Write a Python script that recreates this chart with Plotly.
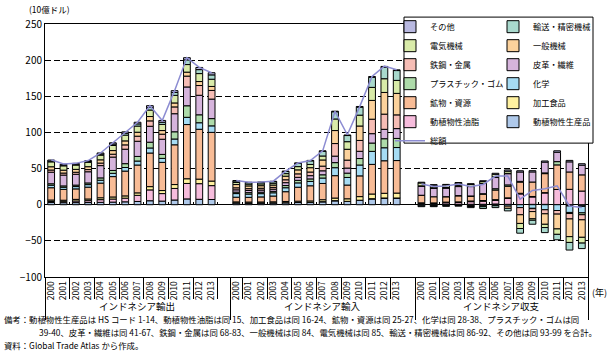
import plotly.graph_objects as go

# ---------------- data (10億ドル) ----------------
years = ["2000", "2001", "2002", "2003", "2004", "2005", "2006",
         "2007", "2008", "2009", "2010", "2011", "2012", "2013"]
groups = ["インドネシア輸出", "インドネシア輸入", "インドネシア収支"]

categories = ["動植物性生産品", "動植物性油脂", "加工食品", "鉱物・資源", "化学",
              "プラスチック・ゴム", "皮革・繊維", "鉄鋼・金属", "一般機械",
              "電気機械", "輸送・精密機械", "その他"]

# exports
exp_agri = [3.0, 2.8, 2.9, 3.0, 3.3, 3.6, 4.0, 4.5, 5.5, 5.0, 6.5, 8.0, 7.5, 7.2]
exp_oil = [1.5, 1.4, 2.3, 2.6, 3.7, 4.3, 5.1, 8.5, 15.0, 10.4, 16.0, 21.4, 21.6, 19.2]
exp_food = [2.0, 2.0, 2.2, 2.3, 2.6, 2.8, 3.1, 3.4, 4.5, 4.2, 5.4, 6.5, 6.3, 6.3]
exp_mineral = [17.0, 15.0, 14.5, 16.4, 20.3, 28.2, 34.3, 38.5, 46.5, 39.0, 55.0, 75.0, 69.0, 67.4]
exp_chem = [3.5, 3.0, 3.2, 3.5, 4.0, 4.5, 5.0, 5.5, 7.0, 5.5, 8.0, 10.0, 9.0, 9.0]
exp_plastic = [2.0, 1.8, 2.0, 2.3, 3.2, 4.0, 5.3, 6.4, 8.0, 5.5, 10.0, 16.0, 11.0, 10.0]
exp_textile = [16.0, 15.0, 15.0, 15.5, 17.0, 18.5, 20.0, 21.0, 22.0, 21.0, 25.0, 26.0, 27.0, 27.0]
exp_metal = [3.0, 2.8, 2.8, 3.0, 3.5, 4.0, 6.0, 7.0, 7.5, 7.0, 9.4, 15.0, 13.5, 12.0]
exp_machine = [4.5, 4.0, 4.0, 4.0, 4.5, 5.0, 5.5, 5.5, 6.0, 5.0, 5.5, 5.5, 5.5, 5.5]
exp_elec = [6.8, 6.0, 6.0, 6.0, 6.5, 7.0, 8.0, 8.5, 9.0, 8.5, 10.5, 10.5, 11.0, 10.0]
exp_transport = [1.0, 1.0, 1.1, 1.2, 1.5, 2.0, 2.5, 3.0, 3.5, 3.0, 4.0, 6.5, 5.5, 6.0]
exp_other = [1.5, 1.2, 1.2, 1.3, 1.5, 1.8, 2.0, 2.3, 2.5, 2.5, 2.5, 3.0, 3.0, 3.0]
exp_total = [62.1, 56.3, 57.2, 61.1, 71.6, 85.7, 100.8, 114.1, 137.0, 116.5, 157.8, 203.5, 190.0, 182.6]

# imports
imp_agri = [2.5, 2.3, 2.4, 2.5, 2.7, 3.0, 3.0, 4.0, 5.4, 4.5, 6.0, 8.0, 9.0, 9.0]
imp_oil = [0.1, 0.1, 0.1, 0.1, 0.1, 0.1, 0.2, 0.2, 0.2, 0.2, 0.2, 0.3, 0.3, 0.3]
imp_food = [1.3, 1.3, 1.3, 1.4, 1.7, 1.8, 2.0, 2.7, 3.6, 3.5, 5.0, 6.5, 6.5, 6.8]
imp_mineral = [6.5, 6.5, 7.0, 8.0, 13.5, 19.3, 21.0, 22.5, 31.0, 19.0, 28.7, 41.0, 45.0, 45.0]
imp_chem = [5.0, 4.5, 4.5, 4.5, 5.5, 6.0, 6.0, 7.5, 11.0, 10.5, 15.0, 18.0, 18.0, 18.0]
imp_plastic = [2.0, 2.0, 2.0, 2.0, 3.0, 3.5, 3.5, 4.5, 7.0, 6.0, 9.0, 11.5, 12.5, 12.6]
imp_textile = [3.2, 3.0, 3.0, 3.0, 4.0, 4.2, 4.5, 5.5, 9.0, 7.0, 10.0, 13.0, 13.0, 13.6]
imp_metal = [2.8, 2.5, 2.5, 2.5, 4.0, 4.8, 5.0, 6.5, 17.4, 11.0, 15.0, 20.0, 21.0, 19.0]
imp_machine = [4.5, 3.8, 3.5, 3.2, 5.0, 5.5, 6.0, 8.5, 18.0, 15.0, 20.0, 26.0, 30.0, 29.7]
imp_elec = [2.8, 2.5, 2.5, 2.5, 3.5, 4.5, 4.5, 5.5, 16.0, 10.5, 15.0, 18.0, 19.0, 18.0]
imp_transport = [2.2, 2.0, 2.0, 2.2, 3.0, 4.5, 5.0, 6.5, 10.0, 8.5, 11.0, 14.0, 16.0, 13.6]
imp_other = [0.5, 0.5, 0.5, 0.5, 0.5, 0.6, 0.6, 0.6, 0.8, 0.8, 1.0, 1.0, 1.0, 1.0]
imp_total = [33.5, 31.0, 31.3, 32.6, 46.5, 57.7, 61.1, 74.5, 129.2, 96.8, 135.7, 177.4, 191.7, 186.6]

# balance (exports - imports)
bal_agri = [0.5, 0.5, 0.5, 0.5, 0.6, 0.6, 1.0, 0.5, 0.1, 0.5, 0.5, 0.0, -1.5, -1.8]
bal_oil = [1.4, 1.3, 2.2, 2.5, 3.6, 4.2, 4.9, 8.3, 14.8, 10.2, 15.8, 21.1, 21.3, 18.9]
bal_food = [0.7, 0.7, 0.9, 0.9, 0.9, 1.0, 1.1, 0.7, 0.9, 0.7, 0.4, 0.0, -0.2, -0.5]
bal_mineral = [10.5, 8.5, 7.5, 8.4, 6.8, 8.9, 13.3, 16.0, 15.5, 20.0, 26.3, 34.0, 24.0, 22.4]
bal_chem = [-1.5, -1.5, -1.3, -1.0, -1.5, -1.5, -1.0, -2.0, -4.0, -5.0, -7.0, -8.0, -9.0, -9.0]
bal_plastic = [0.0, -0.2, 0.0, 0.3, 0.2, 0.5, 1.8, 1.9, 1.0, -0.5, 1.0, 4.5, -1.5, -2.6]
bal_textile = [12.8, 12.0, 12.0, 12.5, 13.0, 14.3, 15.5, 15.5, 13.0, 14.0, 15.0, 13.0, 14.0, 13.4]
bal_metal = [0.2, 0.3, 0.3, 0.5, -0.5, -0.8, 1.0, 0.5, -9.9, -4.0, -5.6, -5.0, -7.5, -7.0]
bal_machine = [0.0, 0.2, 0.5, 0.8, -0.5, -0.5, -0.5, -3.0, -12.0, -10.0, -14.5, -20.5, -24.5, -24.2]
bal_elec = [4.0, 3.5, 3.5, 3.5, 3.0, 2.5, 3.5, 3.0, -7.0, -2.0, -4.5, -7.5, -8.0, -8.0]
bal_transport = [-1.2, -1.0, -0.9, -1.0, -1.5, -2.5, -2.5, -3.5, -6.5, -5.5, -7.0, -7.5, -10.5, -7.6]
bal_other = [1.0, 0.7, 0.7, 0.8, 1.0, 1.2, 1.4, 1.7, 1.7, 1.7, 1.5, 2.0, 2.0, 2.0]
bal_total = [28.6, 25.3, 25.9, 28.5, 25.1, 28.0, 39.7, 39.6, 7.8, 19.7, 22.1, 26.1, -1.7, -4.0]

series = {
    "動植物性生産品": (exp_agri, imp_agri, bal_agri),
    "動植物性油脂": (exp_oil, imp_oil, bal_oil),
    "加工食品": (exp_food, imp_food, bal_food),
    "鉱物・資源": (exp_mineral, imp_mineral, bal_mineral),
    "化学": (exp_chem, imp_chem, bal_chem),
    "プラスチック・ゴム": (exp_plastic, imp_plastic, bal_plastic),
    "皮革・繊維": (exp_textile, imp_textile, bal_textile),
    "鉄鋼・金属": (exp_metal, imp_metal, bal_metal),
    "一般機械": (exp_machine, imp_machine, bal_machine),
    "電気機械": (exp_elec, imp_elec, bal_elec),
    "輸送・精密機械": (exp_transport, imp_transport, bal_transport),
    "その他": (exp_other, imp_other, bal_other),
}

# ---------------- styling ----------------
colors = {
    "動植物性生産品": "#AFC9EA",
    "動植物性油脂": "#F6BCDC",
    "加工食品": "#FFF1A0",
    "鉱物・資源": "#F8BC96",
    "化学": "#A6DCF4",
    "プラスチック・ゴム": "#AEDBAA",
    "皮革・繊維": "#D6B4DC",
    "鉄鋼・金属": "#F6BDB5",
    "一般機械": "#FCD29C",
    "電気機械": "#D9EBA9",
    "輸送・精密機械": "#A9D9CD",
    "その他": "#B8B8E0",
}
left_col = ["その他", "電気機械", "鉄鋼・金属", "プラスチック・ゴム", "鉱物・資源", "動植物性油脂"]
right_col = ["輸送・精密機械", "一般機械", "皮革・繊維", "化学", "加工食品", "動植物性生産品"]

FONT = "Noto Sans CJK JP"
BLANK = " "

# multicategory x: outer level keys are blank (group names are drawn as
# annotations so they can sit closer to the year row); one empty slot
# between groups
group_keys = [" " * (k + 1) for k in range(len(groups))]
outer, inner = [], []
for gi, g in enumerate(group_keys):
    outer += [g] * len(years)
    inner += years
    if gi < len(groups) - 1:
        outer.append(g)
        inner.append(BLANK)
x_multi = [outer, inner]


def join3(a, b, c):
    return list(a) + [None] + list(b) + [None] + list(c)


fig = go.Figure()
for cat in categories:
    e, i, b = series[cat]
    if cat in left_col:
        leg, rank = "legend", left_col.index(cat) + 1
    else:
        leg, rank = "legend2", right_col.index(cat) + 1
    fig.add_trace(go.Bar(
        x=x_multi, y=join3(e, i, b), name=cat,
        marker=dict(color=colors[cat], line=dict(color="black", width=1)),
        legend=leg, legendrank=rank,
    ))

fig.add_trace(go.Scatter(
    x=x_multi, y=join3(exp_total, imp_total, bal_total), name="総額",
    mode="lines", line=dict(color="#8C8CD2", width=1.5),
    connectgaps=False, legend="legend", legendrank=7,
))

# invisible helper traces so the overlay tick axes get the same categories
for ax_name in ("x2", "x3"):
    fig.add_trace(go.Scatter(
        x=x_multi, y=[None] * len(inner), xaxis=ax_name, showlegend=False,
        hoverinfo="skip", mode="lines",
    ))

# plot area geometry (px)
PL, PR, PT, PB = 45, 588, 20, 277
W, H = 610, 352
YMIN, YMAX = -100, 250


def px_x(p):
    return (p - PL) / (PR - PL)


def px_y(p):
    return (PB - p) / (PB - PT)


LEGEND_FONT = dict(size=8.2, family=FONT)

fig.update_layout(
    width=W, height=H,
    margin=dict(l=PL, r=W - PR, t=PT, b=H - PB, pad=0),
    barmode="relative", bargap=0.45,
    plot_bgcolor="white", paper_bgcolor="white",
    font=dict(family=FONT, size=10, color="black"),
    showlegend=True,
    xaxis=dict(
        type="multicategory", tickangle=-90,
        ticks="outside", tickson="boundaries", ticklen=1, tickcolor="rgba(0,0,0,0)",
        ticklabelstandoff=0,
        showdividers=True, dividercolor="black", dividerwidth=1,
        showline=True, linecolor="black", linewidth=1, mirror=True,
        showgrid=False, tickfont=dict(size=8.5, family=FONT),
    ),
    # cell separators of the year-label row
    xaxis2=dict(
        type="multicategory", overlaying="x", matches="x",
        anchor="free", position=0,
        ticks="outside", tickson="boundaries", ticklen=21, tickcolor="black",
        showticklabels=False, showdividers=False, showline=False, showgrid=False,
    ),
    # small tick marks on the zero line
    xaxis3=dict(
        type="multicategory", overlaying="x", matches="x",
        anchor="free", position=(0 - YMIN) / (YMAX - YMIN),
        ticks="inside", tickson="boundaries", ticklen=3, tickcolor="black",
        showticklabels=False, showdividers=False, showline=False, showgrid=False,
    ),
    yaxis=dict(
        range=[YMIN, YMAX], dtick=50, tick0=0,
        showgrid=True, gridcolor="black", gridwidth=1, griddash="6px,3px",
        zeroline=True, zerolinecolor="black", zerolinewidth=1,
        showline=True, linecolor="black", linewidth=1, mirror=True,
        ticks="", tickfont=dict(size=10, family=FONT),
    ),
    legend=dict(
        x=px_x(390), y=px_y(8), xanchor="left", yanchor="top",
        bgcolor="rgba(0,0,0,0)", borderwidth=0, traceorder="normal",
        font=LEGEND_FONT,
    ),
    legend2=dict(
        x=px_x(493), y=px_y(8), xanchor="left", yanchor="top",
        bgcolor="rgba(0,0,0,0)", borderwidth=0, traceorder="normal",
        font=LEGEND_FONT,
    ),
    shapes=[dict(
        type="rect", xref="paper", yref="paper",
        x0=px_x(404), x1=px_x(593), y0=px_y(13), y1=px_y(141),
        line=dict(color="black", width=1), fillcolor="white", layer="above",
    )],
)

# group labels under the year row, centred on each group's span
group_centres_px = [137, 322, 501]
annos = [
    dict(text=g, x=px_x(c), y=px_y(306), xanchor="center", yanchor="middle", font=dict(size=9.5))
    for g, c in zip(groups, group_centres_px)
]
annos += [
    dict(text="(10億ドル)", x=px_x(27), y=px_y(5), xanchor="left", yanchor="middle", font=dict(size=8.5)),
    dict(text="(年)", x=px_x(590), y=px_y(293), xanchor="left", yanchor="middle", font=dict(size=9)),
    dict(text="備考：動植物性生産品は HS コード 1-14、動植物性油脂は同 15、加工食品は同 16-24、鉱物・資源は同 25-27、化学は同 28-38、プラスチック・ゴムは同",
         x=px_x(2), y=px_y(320), xanchor="left", yanchor="middle", font=dict(size=8.4)),
    dict(text="39-40、皮革・繊維は同 41-67、鉄鋼・金属は同 68-83、一般機械は同 84、電気機械は同 85、輸送・精密機械は同 86-92、その他は同 93-99 を合計。",
         x=px_x(37), y=px_y(333), xanchor="left", yanchor="middle", font=dict(size=8.4)),
    dict(text="資料：Global Trade Atlas から作成。",
         x=px_x(2), y=px_y(346), xanchor="left", yanchor="middle", font=dict(size=8.4)),
]
for a in annos:
    a.update(xref="paper", yref="paper", showarrow=False)
    fig.add_annotation(**a)

fig.write_html("out.html")
